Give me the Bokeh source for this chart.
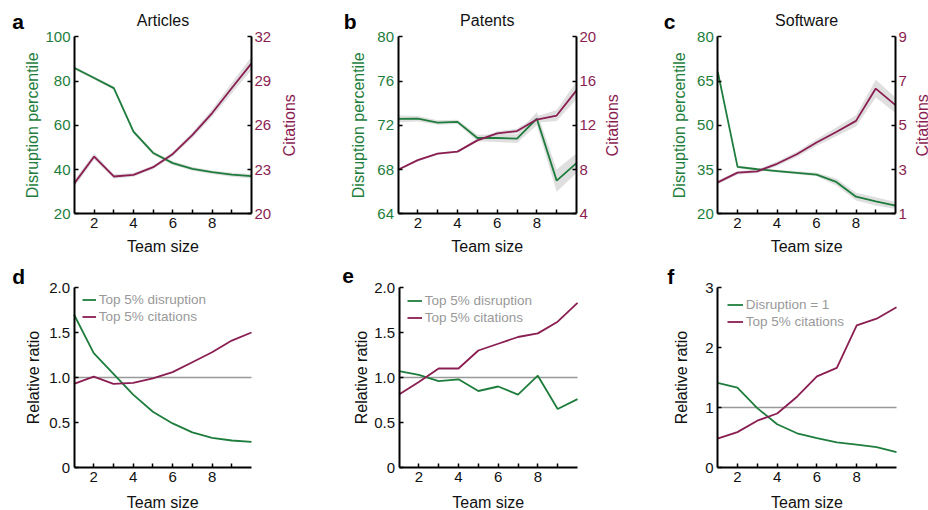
import math
from bokeh.plotting import figure
from bokeh.models import Range1d, LinearAxis, FixedTicker, Label, Legend, LegendItem
from bokeh.layouts import column, row
from bokeh.embed import file_html
from bokeh.resources import INLINE

# ---------------- data ----------------
team_size = [1, 2, 3, 4, 5, 6, 7, 8, 9, 10]
x_ticks = [2, 4, 6, 8]
x_minor = [3, 5, 7, 9]

# a: Articles
a_disruption = [85.9, 81.4, 76.8, 57.1, 47.5, 42.9, 40.3, 38.8, 37.7, 37.0]
a_disruption_err = [0.8, 0.7, 0.7, 0.9, 0.8, 0.8, 0.8, 0.8, 0.9, 1.0]
a_citations = [22.08, 23.88, 22.53, 22.64, 23.16, 24.06, 25.35, 26.83, 28.53, 30.2]
a_citations_err = [0.25, 0.2, 0.15, 0.12, 0.12, 0.15, 0.2, 0.25, 0.35, 0.45]
a_dis_ticks = [20, 40, 60, 80, 100]
a_cit_ticks = [20, 23, 26, 29, 32]

# b: Patents
b_disruption = [72.58, 72.6, 72.25, 72.31, 70.85, 70.85, 70.79, 72.6, 67.0, 68.58]
b_disruption_err = [0.3, 0.25, 0.2, 0.2, 0.3, 0.35, 0.4, 0.6, 1.0, 0.9]
b_citations = [7.98, 8.85, 9.44, 9.62, 10.64, 11.27, 11.48, 12.52, 12.88, 15.16]
b_citations_err = [0.1, 0.1, 0.1, 0.1, 0.15, 0.2, 0.2, 0.3, 0.5, 0.8]
b_dis_ticks = [64, 68, 72, 76, 80]
b_cit_ticks = [4, 8, 12, 16, 20]

# c: Software
c_disruption = [68.1, 35.9, 35.1, 34.5, 33.9, 33.3, 30.8, 25.8, 24.2, 22.8]
c_disruption_err = [0.8, 0.5, 0.4, 0.4, 0.5, 0.6, 1.2, 1.3, 1.4, 1.2]
c_citations = [2.42, 2.86, 2.92, 3.26, 3.69, 4.22, 4.70, 5.20, 6.66, 5.91]
c_citations_err = [0.08, 0.08, 0.08, 0.1, 0.12, 0.15, 0.2, 0.25, 0.4, 0.35]
c_dis_ticks = [20, 35, 50, 65, 80]
c_cit_ticks = [1, 3, 5, 7, 9]

# d, e, f: relative ratios
reference_ratio = 1
d_disruption = [1.70, 1.27, 1.04, 0.81, 0.62, 0.49, 0.39, 0.33, 0.30, 0.285]
d_citations = [0.93, 1.01, 0.93, 0.94, 0.99, 1.06, 1.17, 1.28, 1.41, 1.50]
e_disruption = [1.07, 1.03, 0.96, 0.98, 0.85, 0.90, 0.81, 1.02, 0.65, 0.76]
e_citations = [0.81, 0.95, 1.10, 1.10, 1.30, 1.375, 1.45, 1.49, 1.62, 1.83]
f_disruption = [1.41, 1.33, 0.99, 0.72, 0.57, 0.49, 0.42, 0.38, 0.34, 0.255]
f_citations = [0.48, 0.59, 0.78, 0.90, 1.18, 1.52, 1.66, 2.37, 2.48, 2.67]
de_ticks = [0, 0.5, 1, 1.5, 2]
f_ticks = [0, 1, 2, 3]
de_tick_labels = {0: "0", 0.5: "0.5", 1: "1.0", 1.5: "1.5", 2: "2.0"}

# ---------------- style ----------------
GREEN = "#1e7d3c"
MAROON = "#8a1e52"
GRAY = "#999999"
BAND = "#d4d4d4"
INK = "#111111"
FONT = "Liberation Sans"
TICK_SIZE = "15px"
LABEL_SIZE = "16px"
LETTER_SIZE = "21px"
BASELINE_LIFT = 5  # raise horizontal texts to the reference baselines


def lin_range(v0, v1, p0, p1, size):
    """Range whose v0 sits at pixel p0 and v1 at pixel p1 on a canvas of `size` px."""
    k = (v1 - v0) / (p1 - p0)
    return Range1d(v0 - p0 * k, v0 + (size - p0) * k)


def style_axis(ax, color, minor=False):
    ax.axis_line_width = 2
    ax.axis_line_color = "black"
    ax.major_tick_in = 4
    ax.major_tick_out = 0
    ax.major_tick_line_width = 1.5
    ax.major_tick_line_color = "black"
    if minor:
        ax.minor_tick_in = 4
        ax.minor_tick_out = 0
        ax.minor_tick_line_width = 1.5
        ax.minor_tick_line_color = "black"
    else:
        ax.minor_tick_line_color = None
    ax.major_label_text_font = FONT
    ax.major_label_text_font_size = TICK_SIZE
    ax.major_label_text_color = color
    ax.major_label_standoff = 4


class Panel:
    """A figure whose frame is its whole canvas; the data box sits inside it."""

    def __init__(self, cl, ct, W, H, L, R, T, B, yticks):
        self.cl, self.ct, self.W, self.H = cl, ct, W, H
        self.L, self.R, self.T, self.B = L, R, T, B
        self.cb = ct + H
        xr = lin_range(team_size[0], team_size[-1], L - cl, R - cl, W)
        yr = lin_range(yticks[0], yticks[-1], self.cb - B, self.cb - T, H)
        p = figure(width=W, height=H, output_backend="svg", toolbar_location=None,
                   x_range=xr, y_range=yr, x_axis_location=None, y_axis_location=None)
        p.min_border_left = p.min_border_right = 0
        p.min_border_top = p.min_border_bottom = 0
        p.outline_line_color = None
        p.background_fill_color = "white"
        p.border_fill_color = "white"
        p.xgrid.visible = False
        p.ygrid.visible = False
        self.p = p
        xax = LinearAxis(ticker=FixedTicker(ticks=x_ticks, minor_ticks=x_minor),
                         fixed_location=yticks[0], bounds=(team_size[0], team_size[-1]))
        style_axis(xax, INK, minor=True)
        p.add_layout(xax, "below")
        self.left_axis = LinearAxis(ticker=FixedTicker(ticks=yticks), fixed_location=team_size[0],
                                    bounds=(yticks[0], yticks[-1]))
        p.add_layout(self.left_axis, "left")

    def text(self, ix, iy, text, size=LABEL_SIZE, color=INK, align="center",
             baseline="alphabetic", angle=0.0, style="normal"):
        if baseline == "alphabetic":
            iy -= BASELINE_LIFT
        self.p.add_layout(Label(x=ix - self.cl, y=self.cb - iy, x_units="screen", y_units="screen",
                                text=text, text_font=FONT, text_font_size=size, text_color=color,
                                text_align=align, text_baseline=baseline, angle=angle,
                                text_font_style=style))


def top_panel(letter, title, dis, dis_err, cit, cit_err, dis_ticks, cit_ticks,
              cl, W, L, R, letter_x, dis_x, cit_x):
    g = Panel(cl, 0, W, 260, L, R, 36.3, 213.3, dis_ticks)
    p = g.p
    style_axis(g.left_axis, GREEN)
    p.extra_y_ranges = {"cit": lin_range(cit_ticks[0], cit_ticks[-1], g.cb - g.B, g.cb - g.T, g.H)}
    rax = LinearAxis(y_range_name="cit", ticker=FixedTicker(ticks=cit_ticks),
                     fixed_location=team_size[-1], bounds=(cit_ticks[0], cit_ticks[-1]))
    style_axis(rax, MAROON)
    rax.major_label_standoff = 3
    p.add_layout(rax, "right")

    dlo = [v - e for v, e in zip(dis, dis_err)]
    dhi = [v + e for v, e in zip(dis, dis_err)]
    clo = [v - e for v, e in zip(cit, cit_err)]
    chi = [v + e for v, e in zip(cit, cit_err)]
    p.varea(x=team_size, y1=dlo, y2=dhi, fill_color=BAND, fill_alpha=0.75)
    p.varea(x=team_size, y1=clo, y2=chi, fill_color=BAND, fill_alpha=0.75, y_range_name="cit")
    p.line(team_size, dis, line_color=GREEN, line_width=1.8)
    p.line(team_size, cit, line_color=MAROON, line_width=1.8, y_range_name="cit")

    mid_x = (L + R) / 2
    mid_y = (g.T + g.B) / 2
    g.text(letter_x, 25.7, letter, size=LETTER_SIZE, color="black", align="left", style="bold")
    g.text(mid_x, 25.3, title)
    g.text(dis_x, mid_y, "Disruption percentile", color=GREEN, baseline="middle", angle=math.pi / 2)
    g.text(cit_x, mid_y, "Citations", color=MAROON, baseline="middle", angle=math.pi / 2)
    g.text(mid_x, 250.5, "Team size")
    return p


def bottom_panel(letter, dis, cit, labels, ticks, overrides, cl, W, L, R,
                 letter_x, letter_y, lab_x, leg_x, leg_top, glyph_w):
    g = Panel(cl, 260, W, 250, L, R, 287, 467, ticks)
    p = g.p
    style_axis(g.left_axis, INK)
    if overrides:
        g.left_axis.major_label_overrides = overrides

    p.line([team_size[0], team_size[-1]], [reference_ratio, reference_ratio],
           line_color=GRAY, line_width=1.5)
    r1 = p.line(team_size, dis, line_color=GREEN, line_width=1.8)
    r2 = p.line(team_size, cit, line_color=MAROON, line_width=1.8)
    item_h = 17
    leg_h = 2 * item_h
    leg = Legend(items=[LegendItem(label=labels[0], renderers=[r1]),
                        LegendItem(label=labels[1], renderers=[r2])],
                 location=(leg_x - cl, g.cb - leg_top - leg_h))
    leg.border_line_color = None
    leg.background_fill_alpha = 0
    leg.padding = 0
    leg.margin = 0
    leg.spacing = 0
    leg.glyph_width = glyph_w
    leg.glyph_height = item_h
    leg.label_height = item_h
    leg.label_standoff = 3
    leg.label_text_font = FONT
    leg.label_text_font_size = "13.5px"
    leg.label_text_color = GRAY
    p.add_layout(leg)

    mid_x = (L + R) / 2
    g.text(letter_x, letter_y, letter, size=LETTER_SIZE, color="black", align="left", style="bold")
    g.text(lab_x, 377, "Relative ratio", baseline="middle", angle=math.pi / 2)
    g.text(mid_x, 506.5, "Team size")
    return p


pa = top_panel("a", "Articles", a_disruption, a_disruption_err, a_citations, a_citations_err,
               a_dis_ticks, a_cit_ticks, 0, 318, 74, 251, 11.7, 31.7, 288.8)
pb = top_panel("b", "Patents", b_disruption, b_disruption_err, b_citations, b_citations_err,
               b_dis_ticks, b_cit_ticks, 318, 320, 397.5, 576, 343.3, 358.3, 611.7)
pc = top_panel("c", "Software", c_disruption, c_disruption_err, c_citations, c_citations_err,
               c_dis_ticks, c_cit_ticks, 638, 290, 717.3, 895, 663.3, 679, 922)

pd = bottom_panel("d", d_disruption, d_citations, ["Top 5% disruption", "Top 5% citations"],
                  de_ticks, de_tick_labels, 0, 318, 73.5, 251, 11.7, 280.7, 32.5, 81.7, 290.8, 14)
pe = bottom_panel("e", e_disruption, e_citations, ["Top 5% disruption", "Top 5% citations"],
                  de_ticks, de_tick_labels, 318, 320, 398.5, 577, 341.7, 280, 360.8, 406.7, 291.7, 15)
pf = bottom_panel("f", f_disruption, f_citations, ["Disruption = 1", "Top 5% citations"],
                  f_ticks, None, 638, 290, 717, 896, 666.7, 281.3, 680.8, 726.7, 295.8, 16)

layout = column(row(pa, pb, pc, spacing=0), row(pd, pe, pf, spacing=0), spacing=0)

open("out.html", "w").write(file_html(layout, INLINE))
